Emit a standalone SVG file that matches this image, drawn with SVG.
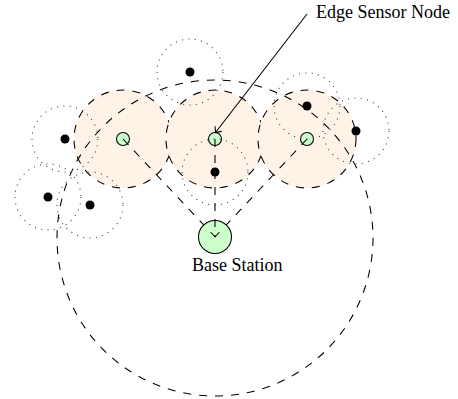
<svg xmlns="http://www.w3.org/2000/svg" width="458" height="399" viewBox="0 0 458 399">
  <style>
    .zone { fill: #fff2e6; stroke: #000; stroke-width: 1.07; stroke-dasharray: 8 8; }
    .range { fill: none; stroke: #444; stroke-width: 1.07; stroke-dasharray: 1.07 5.33; }
    .reach { fill: none; stroke: #000; stroke-width: 1.07; stroke-dasharray: 8 8; }
    .edge { fill: #ccffcc; stroke: #000; stroke-width: 1.07; }
    .sensor { fill: #000; }
    .link { fill: none; stroke: #000; stroke-width: 1.07; stroke-dasharray: 8 8; }
    .pointer { fill: none; stroke: #000; stroke-width: 1.07; marker-end: url(#tip); }
    .label { font-family: "Liberation Serif", "Times New Roman", serif; font-size: 18px; fill: #000; }
  </style>
  <defs>
    <marker id="tip" markerUnits="userSpaceOnUse" markerWidth="12" markerHeight="12" viewBox="-6 -6 12 12" refX="0" refY="0" orient="auto">
      <path d="M -4.5,-4 Q -1.2,-1 0,0 Q -1.2,1 -4.5,4" fill="none" stroke="#000" stroke-width="1.07" stroke-linecap="round"/>
    </marker>
  </defs>

  <!-- cluster zones around the edge sensor nodes -->
  <g id="zones">
    <circle class="zone" cx="123" cy="139" r="49"/>
    <circle class="zone" cx="215" cy="139" r="49"/>
    <circle class="zone" cx="307" cy="139" r="49"/>
  </g>

  <!-- edge sensor nodes -->
  <g id="edge-left"><circle class="edge" cx="123" cy="139" r="6.5"/></g>
  <g id="edge-center"><circle class="edge" cx="215" cy="139" r="6.5"/></g>
  <g id="edge-right"><circle class="edge" cx="307" cy="139" r="6.5"/></g>

  <!-- base station coverage -->
  <g id="coverage">
    <circle class="reach" cx="215" cy="238" r="158"/>
  </g>

  <!-- ordinary sensor nodes with their sensing ranges -->
  <g id="sensor-top"><circle class="range" cx="190" cy="72" r="33"/><circle class="sensor" cx="190" cy="72" r="4.5"/></g>
  <g id="sensor-left"><circle class="range" cx="65" cy="139" r="33"/><circle class="sensor" cx="65" cy="139" r="4.5"/></g>
  <g id="sensor-lower-left"><circle class="range" cx="48" cy="197" r="33"/><circle class="sensor" cx="48" cy="197" r="4.5"/></g>
  <g id="sensor-lower"><circle class="range" cx="90" cy="205" r="33"/><circle class="sensor" cx="90" cy="205" r="4.5"/></g>
  <g id="sensor-middle"><circle class="range" cx="215" cy="172" r="33"/><circle class="sensor" cx="215" cy="172" r="4.5"/></g>
  <g id="sensor-upper-right"><circle class="range" cx="307" cy="106" r="33"/><circle class="sensor" cx="307" cy="106" r="4.5"/></g>
  <g id="sensor-right"><circle class="range" cx="356" cy="131" r="33"/><circle class="sensor" cx="356" cy="131" r="4.5"/></g>

  <!-- links from the edge nodes to the base station -->
  <g id="connectors">
    <line class="link" x1="123" y1="139" x2="215" y2="237"/>
    <line class="link" x1="307" y1="139" x2="215" y2="237"/>
  </g>

  <!-- base station -->
  <g id="base-station">
    <circle class="edge" cx="215" cy="237" r="16.5"/>
    <text class="label" x="192" y="271">Base Station</text>
  </g>

  <g id="connectors-front">
    <line class="link" x1="215" y1="139" x2="215" y2="237" style="marker-end: url(#tip)"/>
    <line class="pointer" x1="307" y1="14" x2="215.5" y2="132.5"/>
  </g>

  <g id="callout">
    <text class="label" x="316" y="18">Edge Sensor Node</text>
  </g>
</svg>
